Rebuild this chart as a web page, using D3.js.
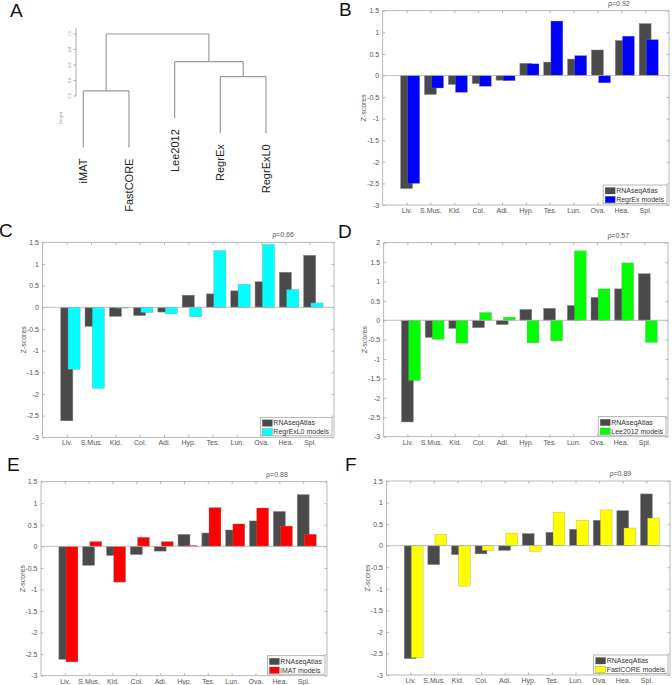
<!DOCTYPE html>
<html>
<head>
<meta charset="utf-8">
<script src="https://cdn.jsdelivr.net/npm/d3@7"></script>
<style>
  html, body { margin: 0; padding: 0; background: #fff; }
  svg { display: block; font-family: "Liberation Sans", Arial, sans-serif; }
</style>
</head>
<body>
<svg id="chart" width="672" height="685"></svg>
<script>
// ---------------- DATA ----------------
const categories = ["Liv.", "S.Mus.", "Kid.", "Col.", "Adi.", "Hyp.", "Tes.", "Lun.", "Ova.", "Hea.", "Spl."];
const rnaseqAtlas = [-2.62, -0.44, -0.21, -0.19, -0.11, 0.28, 0.31, 0.38, 0.59, 0.81, 1.20];
const regrEx      = [-2.50, -0.29, -0.39, -0.25, -0.12, 0.27, 1.26, 0.46, -0.17, 0.91, 0.83];
const regrExL0    = [-1.43, -1.87, -0.02, -0.12, -0.15, -0.22, 1.31, 0.53, 1.45, 0.41, 0.10];
const lee2012     = [-1.55, -0.49, -0.59, 0.20, 0.08, -0.58, -0.53, 1.79, 0.81, 1.48, -0.57];
const iMAT        = [-2.68, 0.11, -0.83, 0.21, 0.11, 0.02, 0.90, 0.52, 0.89, 0.47, 0.28];
const fastCORE    = [-2.60, 0.26, -0.94, -0.11, 0.29, -0.13, 0.77, 0.59, 0.83, 0.41, 0.64];
const seriesNames = ["RegrEx models", "RegrExL0 models", "Lee2012 models", "iMAT models", "FastCORE models"];
const rhoValues   = ["0.92", "0.66", "0.57", "0.88", "0.89"];
const yTicks15    = [1.5, 1, 0.5, 0, -0.5, -1, -1.5, -2, -2.5, -3];
const yTicks20    = [2, 1.5, 1, 0.5, 0, -0.5, -1, -1.5, -2, -2.5, -3];
const referenceName = "RNAseqAtlas";

// dendrogram (R hclust style)
const dendroLeaves  = ["iMAT", "FastCORE", "Lee2012", "RegrEx", "RegrExL0"];
const dendroMerge   = [[-1, -2], [-4, -5], [-3, 2], [1, 3]];
const dendroHeights = [0.265, 0.449, 0.643, 1.0];
const dendroTicks   = [0.2, 0.4, 0.6, 0.8, 1.0];
const dendroHang    = 0.73;

// ---------------- DRAW ----------------
const svg = d3.select("#chart");
const FONT = '"Liberation Sans", Arial, sans-serif';
const axisCol = "#a8a8a8";
const textCol = "#555";
const grayBar = "#4a4a4a";

// Panel letters
const letters = [
  {t: "A", x: 10, y: 17}, {t: "B", x: 339, y: 16},
  {t: "C", x: -1, y: 237}, {t: "D", x: 338, y: 238},
  {t: "E", x: 7, y: 471}, {t: "F", x: 345, y: 471}
];
svg.selectAll("text.letter").data(letters).enter().append("text")
  .attr("class", "letter")
  .attr("x", d => d.x).attr("y", d => d.y)
  .attr("font-size", 19).attr("fill", "#111")
  .text(d => d.t);

// ---- Panel A : dendrogram ----
(function drawDendro() {
  const g = svg.append("g");
  const yD = d3.scaleLinear().domain([0.2, 1.0]).range([96, 34]);
  const xD = d3.scalePoint().domain(dendroLeaves).range([83.3, 266]);
  const nodeX = [], nodeH = [];
  const lineCol = "#9a9a9a";
  function childPos(c) {
    if (c < 0) return {x: xD(dendroLeaves[-c - 1]), leaf: true, name: dendroLeaves[-c - 1]};
    return {x: nodeX[c - 1], h: nodeH[c - 1], leaf: false};
  }
  dendroMerge.forEach((m, i) => {
    const h = dendroHeights[i];
    const a = childPos(m[0]), b = childPos(m[1]);
    nodeX[i] = (a.x + b.x) / 2; nodeH[i] = h;
    [a, b].forEach(c => {
      const bottom = c.leaf ? h - dendroHang : c.h;
      g.append("line").attr("x1", c.x).attr("x2", c.x)
        .attr("y1", yD(h)).attr("y2", yD(bottom))
        .attr("stroke", lineCol).attr("stroke-width", 1.2);
      if (c.leaf) {
        g.append("text")
          .attr("transform", `translate(${c.x + 4},${yD(bottom) + 11}) rotate(-90)`)
          .attr("text-anchor", "end")
          .attr("font-size", 11).attr("fill", "#222")
          .text(c.name);
      }
    });
    g.append("line").attr("x1", a.x).attr("x2", b.x)
      .attr("y1", yD(h)).attr("y2", yD(h))
      .attr("stroke", lineCol).attr("stroke-width", 1.2);
  });
  // axis
  g.append("line").attr("x1", 76).attr("x2", 76)
    .attr("y1", yD(0.2)).attr("y2", yD(1.08))
    .attr("stroke", lineCol).attr("stroke-width", 0.8);
  dendroTicks.forEach(t => {
    g.append("line").attr("x1", 73.5).attr("x2", 76)
      .attr("y1", yD(t)).attr("y2", yD(t))
      .attr("stroke", lineCol).attr("stroke-width", 0.8);
    g.append("text")
      .attr("transform", `translate(${70.5},${yD(t)}) rotate(-90)`)
      .attr("text-anchor", "middle")
      .attr("font-size", 4).attr("fill", "#888")
      .text(t.toFixed(1));
  });
  g.append("text")
    .attr("transform", `translate(${62},${118}) rotate(-90)`)
    .attr("text-anchor", "middle").attr("font-size", 4).attr("fill", "#888")
    .text("Height");
})();

// ---- Bar panels ----
const panels = [
  {series: regrEx,   color: "#0000ff", name: seriesNames[0], rho: rhoValues[0], ticks: yTicks15, ymax: 1.5, box: {l: 382.7, r: 669, t: 10.7, b: 205}},
  {series: regrExL0, color: "#00ffff", name: seriesNames[1], rho: rhoValues[1], ticks: yTicks15, ymax: 1.5, box: {l: 42.5, r: 334, t: 242.3, b: 437.3}},
  {series: lee2012,  color: "#00ff00", name: seriesNames[2], rho: rhoValues[2], ticks: yTicks20, ymax: 2.0, box: {l: 383.7, r: 668, t: 242.7, b: 436.7}},
  {series: iMAT,     color: "#ff0000", name: seriesNames[3], rho: rhoValues[3], ticks: yTicks15, ymax: 1.5, box: {l: 41, r: 327, t: 481.7, b: 675.7}},
  {series: fastCORE, color: "#ffff00", name: seriesNames[4], rho: rhoValues[4], ticks: yTicks15, ymax: 1.5, box: {l: 386.5, r: 670, t: 481, b: 675}}
];

function fmt(v) { return String(v); }

panels.forEach(p => {
  const B = p.box;
  const g = svg.append("g");
  const x = d3.scaleLinear().domain([0, 12]).range([B.l, B.r]);
  const y = d3.scaleLinear().domain([-3, p.ymax]).range([B.b, B.t]);
  const idx = d3.range(categories.length);

  // box
  g.append("rect").attr("x", B.l).attr("y", B.t)
    .attr("width", B.r - B.l).attr("height", B.b - B.t)
    .attr("fill", "none").attr("stroke", axisCol).attr("stroke-width", 0.8);

  // axes (inward ticks)
  const axL = d3.axisLeft(y).tickValues(p.ticks).tickFormat(fmt).tickSize(-2.5).tickPadding(3.5);
  const axR = d3.axisRight(y).tickValues(p.ticks).tickFormat("").tickSize(-2.5);
  const axB = d3.axisBottom(x).tickValues(idx.map(i => i + 1)).tickFormat(d => categories[d - 1]).tickSize(-2.5).tickPadding(3);
  const axT = d3.axisTop(x).tickValues(idx.map(i => i + 1)).tickFormat("").tickSize(-2.5);
  [[axL, `translate(${B.l},0)`], [axR, `translate(${B.r},0)`], [axB, `translate(0,${B.b})`], [axT, `translate(0,${B.t})`]]
    .forEach(([ax, tr]) => {
      const a = g.append("g").attr("transform", tr).call(ax);
      a.select(".domain").remove();
      a.selectAll("line").attr("stroke", axisCol).attr("stroke-width", 0.8);
      a.selectAll("text").attr("font-size", 7).attr("fill", textCol).attr("font-family", FONT);
    });

  // bars
  const barW = 0.5;
  g.selectAll("rect.ref").data(idx).enter().append("rect")
    .attr("x", i => x(i + 1 - barW / 2))
    .attr("width", i => x(barW) - x(0))
    .attr("y", i => y(Math.max(0, rnaseqAtlas[i])))
    .attr("height", i => Math.abs(y(rnaseqAtlas[i]) - y(0)))
    .attr("fill", grayBar).attr("stroke", "#8a8a8a").attr("stroke-width", 0.5);
  g.selectAll("rect.mod").data(idx).enter().append("rect")
    .attr("x", i => x(i + 1 + 0.05))
    .attr("width", i => x(barW) - x(0))
    .attr("y", i => y(Math.max(0, p.series[i])))
    .attr("height", i => Math.abs(y(p.series[i]) - y(0)))
    .attr("fill", p.color).attr("stroke", "#888").attr("stroke-opacity", 0.6).attr("stroke-width", 0.5);

  // zero line
  g.append("line").attr("x1", B.l).attr("x2", B.r)
    .attr("y1", y(0)).attr("y2", y(0))
    .attr("stroke", "#b0b0b0").attr("stroke-width", 0.8);

  // y label
  g.append("text")
    .attr("transform", `translate(${B.l - 16.5},${(B.t + B.b) / 2}) rotate(-90)`)
    .attr("text-anchor", "middle").attr("font-size", 7).attr("fill", textCol)
    .text("Z-scores");

  // rho
  g.append("text").attr("x", x(9.9)).attr("y", B.t - 5)
    .attr("text-anchor", "middle").attr("font-size", 7).attr("fill", textCol)
    .text("\u03C1=" + p.rho);

  // legend
  const lg = g.append("g");
  const items = [{n: referenceName, c: grayBar}, {n: p.name, c: p.color}];
  const texts = items.map((it, k) => lg.append("text")
    .attr("font-size", 7).attr("fill", "#333").text(it.n));
  const tw = d3.max(texts, t => t.node().getComputedTextLength());
  const lw = tw + 16, lh = 18.5;
  const lx = B.r - 2 - lw, ly = B.b - 1.5 - lh;
  lg.insert("rect", ":first-child").attr("x", lx).attr("y", ly).attr("width", lw).attr("height", lh)
    .attr("fill", "#fff").attr("stroke", "#999").attr("stroke-width", 0.7);
  items.forEach((it, k) => {
    lg.append("rect").attr("x", lx + 2).attr("y", ly + 2.5 + k * 8.8)
      .attr("width", 10).attr("height", 6.5)
      .attr("fill", it.c).attr("stroke", "#666").attr("stroke-width", 0.3);
    texts[k].attr("x", lx + 13).attr("y", ly + 8 + k * 8.8);
  });
});
</script>
</body>
</html>
